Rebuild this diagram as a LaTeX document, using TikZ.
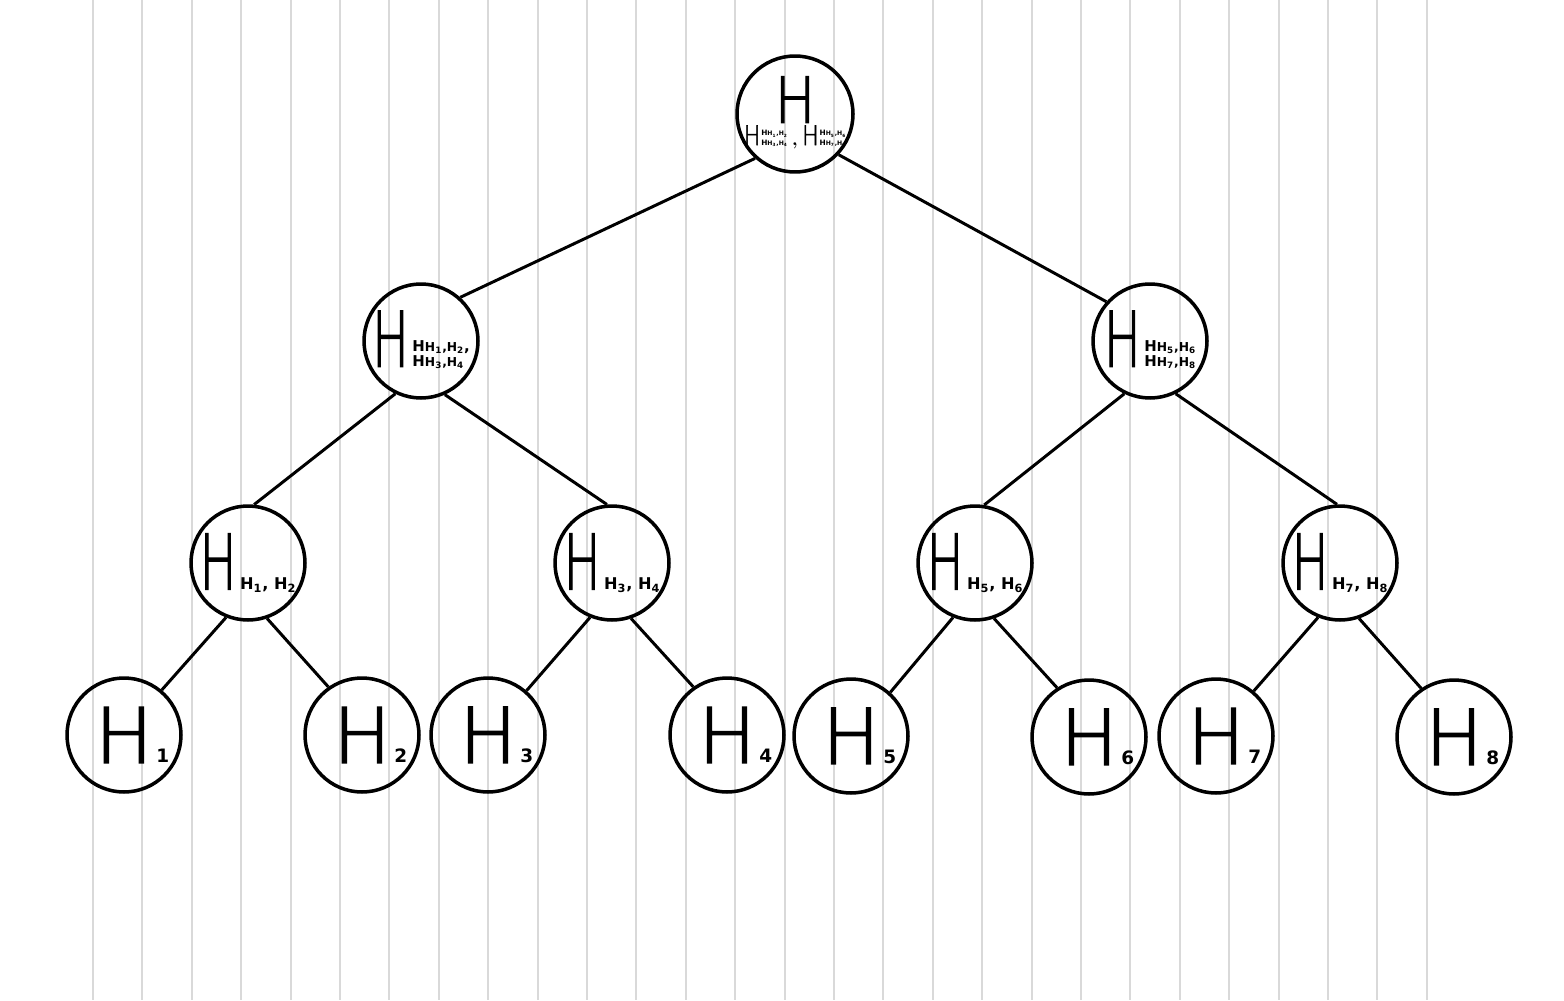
\documentclass[tikz,border=0pt]{standalone}
\usepackage{fontspec}
\usepackage{graphicx}
\setsansfont{DejaVu Sans}
\newfontfamily\thinfont[FakeBold=2]{DejaVu Sans ExtraLight}
\newcommand{\bigH}[2]{{\thinfont\fontsize{#1}{#1}\selectfont\scalebox{#2}[1]{H}}}
\newcommand{\subtext}[2]{{\sffamily\bfseries\fontsize{#1}{#1}\selectfont #2}}
\newcommand{\hlines}[1]{\begin{tabular}[b]{@{}l@{}}#1\end{tabular}}
\newcommand{\hpair}[3]{H{\fontsize{#1}{#1}\selectfont H\textsubscript{#2},H\textsubscript{#3}}}
\newcommand{\leafsub}[1]{\kern2pt\subtext{10.5pt}{#1}}
\newcommand{\leafH}[1]{\makebox[0pt]{\hphantom{\leafsub{#1}}\bigH{43.6pt}{1.0}\leafsub{#1}}}
\newcommand{\pairH}[2]{\makebox[0pt]{\bigH{43.6pt}{0.64}\kern2pt\subtext{9.2pt}{H\textsubscript{#1}, H\textsubscript{#2}}}}
\usetikzlibrary{positioning}

\begin{document}
\begin{tikzpicture}[x=0.02cm, y=-0.02cm, line width=1.7pt,
    hnode/.style={circle, draw, line width=2pt, minimum size=2.28cm, inner sep=0pt},
    gridline/.style={draw=black!15, line width=1.1pt}]
    \useasboundingbox (0,0) rectangle (1564,1000);
    \foreach \i in {0,...,27}
        \draw[gridline] ({93+49.4*\i},0) -- ({93+49.4*\i},1000);

    \node[hnode, minimum size=2.32cm] (root) at (795,114) {\makebox[0pt]{\begin{tabular}{@{}c@{}}\bigH{36pt}{0.85}\\[-2pt]
        \bigH{15.3pt}{0.82}\kern0.5pt\subtext{4.2pt}{\hlines{\hpair{3.5pt}{1}{2}\\[1pt]\hpair{3.5pt}{3}{4}}}\kern2.5pt{\bfseries,}\kern2.5pt\bigH{15.3pt}{0.82}\kern0.5pt\subtext{4.2pt}{\hlines{\hpair{3.5pt}{5}{6}\\[1pt]\hpair{3.5pt}{7}{8}}}\end{tabular}}};

    \node[hnode] (l) at (421,341) {\makebox[0pt]{\bigH{43.6pt}{0.64}\kern2pt\subtext{8.5pt}{\hlines{\hpair{7pt}{1}{2},\\\hpair{7pt}{3}{4}}}}};
    \node[hnode] (r) at (1150,341) {\makebox[0pt]{\bigH{43.6pt}{0.64}\kern2pt\subtext{8.5pt}{\hlines{\hpair{7pt}{5}{6}\\\hpair{7pt}{7}{8}}}}};

    \node[hnode] (ll) at (248,563) {\pairH{1}{2}};
    \node[hnode] (lr) at (612,563) {\pairH{3}{4}};
    \node[hnode] (rl) at (975,563) {\pairH{5}{6}};
    \node[hnode] (rr) at (1340,563) {\pairH{7}{8}};

    \node[hnode] (h1) at (124,735) {\leafH{1}};
    \node[hnode] (h2) at (362,735) {\leafH{2}};
    \node[hnode] (h3) at (488,735) {\leafH{3}};
    \node[hnode] (h4) at (727,735) {\leafH{4}};
    \node[hnode] (h5) at (851,736) {\leafH{5}};
    \node[hnode] (h6) at (1089,737) {\leafH{6}};
    \node[hnode] (h7) at (1216,736) {\leafH{7}};
    \node[hnode] (h8) at (1454,737) {\leafH{8}};

    \draw (root.228) -- (l.48);
    \draw (root.317) -- (r.138);
    \draw (l.244) -- (ll.84);
    \draw (l.294) -- (lr.95);
    \draw (r.244) -- (rl.81);
    \draw (r.296) -- (rr.93);
    \draw (ll.248) -- (h1.50);
    \draw (ll.289) -- (h2.125);
    \draw (lr.248) -- (h3.49);
    \draw (lr.289) -- (h4.125);
    \draw (rl.248) -- (h5.48);
    \draw (rl.289) -- (h6.123);
    \draw (rr.248) -- (h7.50);
    \draw (rr.289) -- (h8.124);
\end{tikzpicture}
\end{document}
